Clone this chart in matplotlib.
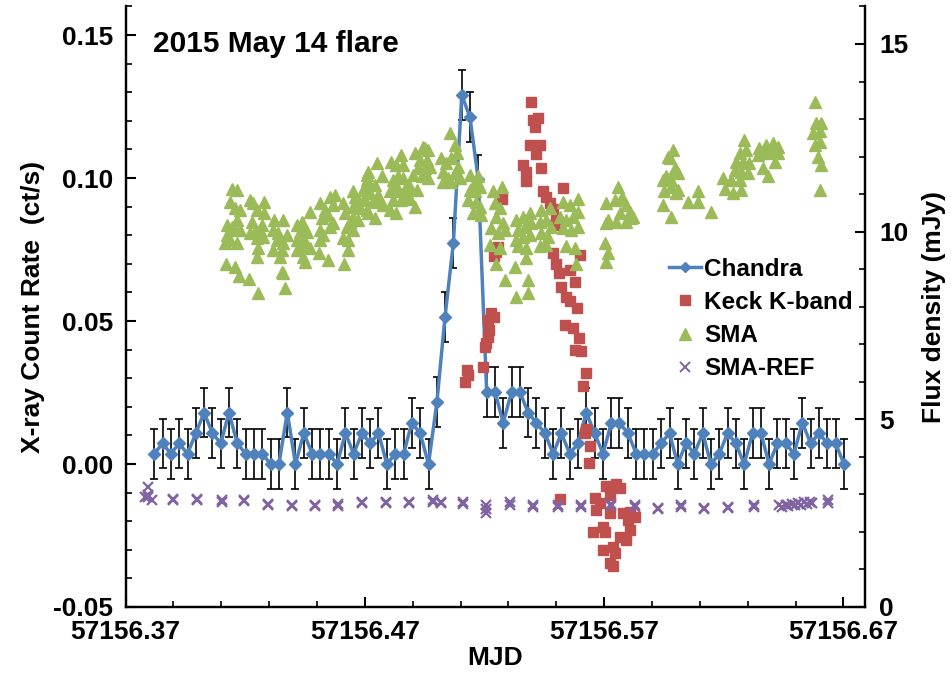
import matplotlib
matplotlib.use("Agg")
import matplotlib.pyplot as plt
from matplotlib.lines import Line2D
from matplotlib.ticker import MultipleLocator, FixedLocator

plt.rcParams["font.family"] = ["Liberation Sans", "DejaVu Sans"]
plt.rcParams["font.weight"] = "bold"

MJD0 = 57156.0

# Chandra 300 s bins: time (MJD - 57156), count rate (ct/s)
chandra_t = [
    .3820, .3855, .3889, .3924, .3959, .3994, .4028, .4063, .4098, .4132,
    .4167, .4202, .4237, .4271, .4306, .4341, .4376, .4410, .4445, .4480,
    .4514, .4549, .4584, .4619, .4653, .4688, .4723, .4757, .4792, .4827,
    .4862, .4896, .4931, .4966, .5001, .5035, .5070, .5105, .5139, .5174,
    .5209, .5244, .5278, .5313, .5348, .5382, .5417, .5452, .5487, .5521,
    .5556, .5591, .5625, .5660, .5695, .5730, .5764, .5799, .5834, .5868,
    .5903, .5938, .5973, .6007, .6042, .6077, .6112, .6146, .6181, .6216,
    .6250, .6285, .6320, .6355, .6389, .6424, .6459, .6493, .6528, .6563,
    .6598, .6632, .6667, .6702,
]
chandra_rate = [
    0.0036, 0.0072, 0.0036, 0.0072, 0.0036, 0.0108, 0.0180, 0.0108, 0.0072, 0.0180,
    0.0072, 0.0036, 0.0036, 0.0036, 0.0, 0.0, 0.0180, 0.0, 0.0108, 0.0036,
    0.0036, 0.0036, 0.0, 0.0108, 0.0036, 0.0108, 0.0072, 0.0108, 0.0, 0.0036,
    0.0036, 0.0144, 0.0108, 0.0, 0.0216, 0.0515, 0.0774, 0.1290, 0.1213, 0.0995,
    0.0252, 0.0252, 0.0144, 0.0252, 0.0252, 0.0180, 0.0144, 0.0108, 0.0036, 0.0108,
    0.0036, 0.0072, 0.0180, 0.0108, 0.0036, 0.0144, 0.0144, 0.0108, 0.0036, 0.0036,
    0.0036, 0.0072, 0.0108, 0.0, 0.0072, 0.0036, 0.0108, 0.0, 0.0036, 0.0108,
    0.0072, 0.0, 0.0108, 0.0108, 0.0, 0.0072, 0.0072, 0.0036, 0.0144, 0.0072,
    0.0108, 0.0072, 0.0072, 0.0,
]
chandra_err = 0.0087

# Keck K-band (mJy)
keck_t = [
    .5125, .5131, .5120, .5194, .5201, .5208, .5215, .5218, .5215, .5229, .5239,
    .5239, .5250, .5257, .5271,
    .5361, .5375, .5375, .5389, .5396, .5403, .5410, .5414, .5424, .5431, .5438,
    .5444, .5459, .5472, .5486, .5500, .5493, .5528,
    .5486, .5500, .5511, .5556, .5577, .5598, .5521, .5542, .5559, .5585,
    .5538, .5570, .5595, .5577, .5605, .5622, .5612, .5623, .5619, .5639, .5635,
    .5514,
    .5660, .5681, .5667, .5709, .5751, .5765, .5723,
    .5723, .5777, .5806, .5827, .5799,
    .5653, .5694, .5702, .5806, .5765, .5793, .5695, .5737, .5744, .5723, .5737,
]
keck_flux = [
    6.32, 6.18, 6.00, 6.40, 6.94, 7.03, 7.20, 7.38, 7.65, 7.82, 7.73,
    9.35, 9.46, 9.59, 10.88,
    11.77, 11.59, 11.35, 12.31, 13.46, 12.97, 12.79, 12.07, 13.02, 12.31, 11.69,
    11.07, 10.92, 10.76, 10.60, 10.31, 10.17, 11.15,
    9.42, 9.13, 8.89, 8.98, 8.67, 9.37, 8.52, 8.26, 8.14, 7.97,
    7.50, 7.42, 7.17, 6.84, 6.82, 6.24, 5.89, 4.74, 4.64, 4.28, 3.83,
    2.88,
    2.91, 2.77, 2.58, 3.22, 3.29, 3.17, 2.99,
    2.50, 2.50, 2.54, 2.41, 2.32,
    2.01, 2.13, 2.01, 2.05, 1.87, 1.79, 1.52, 1.60, 1.43, 1.17, 1.08,
]

# SMA (mJy)
sma_t = [
    .4143, .4164, .4136, .4157, .4178, .4123, .4143, .4164, .4157, .4178,
    .4115, .4136, .4164, .4123, .4120, .4157, .4175, .4217, .4254, .4220,
    .4234, .4278, .4248, .4278, .4227, .4220, .4241, .4262, .4269, .4248,
    .4275, .4254, .4248, .4320, .4356, .4317, .4338, .4331, .4359, .4317,
    .4352, .4345, .4373, .4352, .4359, .4366, .4415, .4436, .4429, .4449,
    .4415, .4442, .4436, .4457, .4415, .4442, .4449, .4470, .4470, .4457,
    .4509, .4547, .4512, .4533, .4519, .4547, .4568, .4554, .4575, .4512,
    .4526, .4554, .4568, .4512, .4609, .4616, .4624, .4609, .4630, .4630,
    .4612, .4651, .4658, .4672, .4651, .4679, .4651, .4672, .4637, .4651,
    .4707, .4714, .4707, .4714,
    .4714, .4749, .4770, .4707, .4742, .4693, .4721, .4755, .4700, .4735,
    .4762, .4707, .4742, .4776, .4811, .4832, .4853, .4860, .4818, .4839,
    .4860, .4832, .4804, .4839, .4874, .4818, .4853, .4804, .4832, .4909,
    .4943, .4964, .4930, .4958, .4922, .4950, .4971, .4902, .4937, .4964,
    .4888, .4916, .4888, .4909, .4874, .4950, .5020, .5041, .5062, .5083,
    .5027, .5048, .5076, .5089, .5027, .5062, .5097, .5055, .5076, .5138,
    .5159, .5138, .5159, .5180, .5131, .5166, .5180, .5152, .5187, .5173,
    .5236, .5275, .5243, .5264, .5250, .5277, .5229, .5256, .5284, .5225,
    .5264, .5250, .5284, .5326, .5333, .5375, .5382, .5382, .5333, .5361,
    .5389, .5340, .5368, .5396, .5333, .5361, .5389, .5340, .5375, .5438,
    .5472, .5431, .5459, .5479, .5438, .5465, .5431, .5459, .5528, .5556,
    .5590, .5514, .5542, .5570, .5590, .5528, .5563, .5590, .5542, .5577,
    .5584,
    .5709, .5709, .5702, .5709, .5716, .5716, .5757, .5744, .5772, .5793,
    .5806, .5765, .5813, .5751, .5793, .5820, .5778,
    .5987, .5966, .5994, .5960, .5980, .6008, .5952, .5980, .6001, .5945,
    .5980, .6050, .6091, .6091, .6147, .5973, .6001, .5945, .6008,
    .6286, .6266, .6293, .6252, .6279, .6307, .6245, .6273, .6300, .6196,
    .6231, .6203, .6266, .6238, .6273, .6349, .6377, .6405, .6425, .6342,
    .6370, .6398, .6425, .6363, .6412, .6384,
    .6579, .6586, .6607, .6572, .6600, .6579, .6600, .6592, .6607, .6600,
]
sma_flux = [
    11.14, 11.10, 10.79, 10.62, 10.58, 10.17, 10.13, 10.31, 10.04, 10.04,
    9.69, 9.78, 9.69, 9.91, 9.15, 9.06, 8.82, 8.73, 8.37, 10.84,
    10.75, 10.79, 10.58, 10.49, 10.27, 9.96, 10.00, 10.04, 10.17, 9.83,
    9.87, 9.56, 9.32, 10.31, 10.31, 10.04, 9.96, 9.78, 9.69, 9.52,
    9.52, 9.33, 9.91, 8.93, 8.89, 8.49, 10.17, 10.27, 10.00, 10.04,
    9.78, 9.83, 9.61, 9.61, 9.52, 9.33, 9.20, 9.56, 10.53, 10.00,
    9.42, 9.25, 10.75, 10.58, 10.36, 10.45, 10.71, 10.93, 10.97, 10.04,
    9.91, 10.13, 10.23, 9.78, 10.75, 10.49, 10.13, 9.83, 9.78, 9.52,
    9.15, 11.07, 10.93, 10.84, 10.66, 10.62, 10.40, 10.31, 10.27, 10.04,
    11.51, 11.30, 11.02, 10.49,
    11.60, 11.82, 11.47, 11.38, 11.25, 11.10, 11.02, 10.97, 10.84, 10.79,
    10.84, 10.58, 10.36, 10.71, 11.86, 11.77, 12.05, 11.77, 11.38, 11.47,
    11.43, 11.25, 11.07, 11.07, 11.20, 10.84, 10.84, 10.58, 10.49, 12.09,
    12.26, 12.18, 11.91, 11.91, 11.69, 11.69, 11.73, 11.51, 11.47, 11.43,
    11.20, 11.10, 10.88, 10.66, 10.97, 12.22, 11.95, 11.82, 11.95, 12.09,
    11.60, 11.43, 11.56, 11.73, 11.33, 11.33, 11.43, 12.62, 12.31, 11.51,
    11.33, 11.10, 11.07, 11.20, 10.84, 10.79, 10.66, 10.49, 10.45, 11.47,
    11.07, 11.20, 10.75, 10.62, 10.40, 10.23, 10.09, 9.96, 10.04, 9.65,
    9.56, 9.15, 8.71, 9.06, 8.27, 9.29, 8.71, 8.36, 10.31, 10.40,
    10.49, 10.04, 10.13, 10.23, 9.78, 9.87, 9.91, 9.61, 9.56, 10.58,
    10.62, 10.27, 10.31, 10.13, 9.96, 9.87, 9.61, 9.65, 10.79, 10.71,
    10.88, 10.40, 10.31, 10.40, 10.53, 10.09, 10.04, 10.13, 9.61, 9.56,
    9.15,
    10.75, 10.23, 9.69, 9.20, 10.31, 9.42, 11.20, 10.84, 10.88, 10.71,
    10.53, 10.49, 10.36, 10.27, 10.27, 10.40, 10.88,
    12.18, 12.00, 11.69, 11.47, 11.38, 11.56, 11.07, 11.20, 11.02, 10.71,
    10.40, 10.79, 11.07, 10.79, 10.53, 11.95, 11.64, 11.38, 11.10,
    12.44, 12.09, 12.18, 11.86, 11.86, 11.82, 11.64, 11.60, 11.56, 11.43,
    11.38, 11.14, 11.38, 11.02, 11.10, 12.22, 12.31, 12.35, 12.26, 12.05,
    12.09, 12.13, 12.09, 11.69, 11.86, 11.47,
    13.46, 12.89, 12.89, 12.62, 12.67, 12.31, 12.40, 12.00, 11.77, 11.10,
]

# SMA reference source (mJy)
ref_t = [
    .3795, .3795, .3795, .3781, .3809, .3900, .3900, .3997, .3997, .4102,
    .4102, .4195, .4195, .4296, .4296, .4394, .4394, .4491, .4491, .4588,
    .4588, .4686, .4686, .4788, .4788, .4885, .4885, .4985, .4985, .5020,
    .5020, .5110, .5110, .5208, .5208, .5208, .5308, .5308, .5403, .5403,
    .5507, .5507, .5605, .5605, .5730, .5730, .5827, .5827, .5924, .5924,
    .6022, .6022, .6119, .6119, .6217, .6217, .6328, .6328,
    .6432, .6445, .6458, .6470, .6483, .6496, .6510, .6522, .6535, .6548,
    .6560, .6570, .6634, .6634,
]
ref_flux = [
    2.98, 2.92, 3.19, 2.93, 2.84, 2.84, 2.87, 2.89, 2.85, 2.84,
    2.81, 2.84, 2.82, 2.75, 2.71, 2.71, 2.69, 2.71, 2.68, 2.75,
    2.69, 2.79, 2.76, 2.79, 2.77, 2.79, 2.77, 2.84, 2.81, 2.79,
    2.77, 2.79, 2.75, 2.71, 2.50, 2.62, 2.79, 2.73, 2.71, 2.67,
    2.71, 2.67, 2.71, 2.67, 2.75, 2.69, 2.71, 2.67, 2.64, 2.61,
    2.71, 2.67, 2.64, 2.61, 2.67, 2.64, 2.71, 2.67,
    2.71, 2.67, 2.73, 2.69, 2.75, 2.71, 2.77, 2.73, 2.79, 2.75,
    2.81, 2.77, 2.84, 2.77,
]

BLUE = "#4F81BD"
RED = "#C0504D"
GREEN = "#9BBB59"
PURPLE = "#8064A2"
FS = 19


def mjd(ts):
    return [MJD0 + t for t in ts]


fig = plt.figure(figsize=(9.51, 6.77), dpi=100)
ax = fig.add_axes([0.132, 0.1034, 0.7776, 0.8871])
ax2 = ax.twinx()

# primary axis: Chandra
ax.errorbar(mjd(chandra_t), chandra_rate, yerr=chandra_err, fmt="none",
            ecolor="black", elinewidth=1.2, capsize=3, capthick=1.2, zorder=2)
ax.plot(mjd(chandra_t), chandra_rate, "-D", color=BLUE, lw=2.5, ms=6.5,
        zorder=3)

# secondary axis: flux densities (drawn over the primary series)
ax2.plot(mjd(keck_t), keck_flux, "s", color=RED, ms=7, mec=RED, zorder=2)
ax2.plot(mjd(sma_t), sma_flux, "^", color=GREEN, ms=9, mec=GREEN, zorder=3)
ax2.plot(mjd(ref_t), ref_flux, "x", color=PURPLE, ms=7.5, mew=1.6, zorder=4)

ax.set_xlim(57156.37, 57156.679)
ax.set_ylim(-0.05, 0.16)
ax2.set_ylim(0, 16)

xt = [57156.37, 57156.47, 57156.57, 57156.67]
ax.set_xticks(xt)
ax.set_xticklabels([f"{v:.2f}" for v in xt])
ax.xaxis.set_minor_locator(FixedLocator([57156.37 + 0.02 * i for i in range(16)]))
ax.set_yticks([-0.05, 0.0, 0.05, 0.10, 0.15])
ax.set_yticklabels(["-0.05", "0.00", "0.05", "0.10", "0.15"])
ax.yaxis.set_minor_locator(MultipleLocator(0.01))
ax2.set_yticks([0, 5, 10, 15])
ax2.yaxis.set_minor_locator(MultipleLocator(1))

for a in (ax, ax2):
    a.tick_params(which="major", direction="in", length=7, width=1.5,
                  labelsize=FS)
    a.tick_params(which="minor", direction="in", length=4, width=1.2)
    a.spines["top"].set_visible(False)
    for s in ("left", "right", "bottom"):
        a.spines[s].set_linewidth(1.6)
ax.tick_params(axis="x", which="major", pad=9.5)
ax.tick_params(axis="y", which="major", pad=9)
ax2.tick_params(axis="y", which="major", pad=10)

ax.set_xlabel("MJD", fontsize=FS, fontweight="bold", labelpad=1)
ax.set_ylabel("X-ray Count Rate  (ct/s)", fontsize=FS, fontweight="bold",
              labelpad=6)
ax2.set_ylabel("Flux density (mJy)", fontsize=FS, fontweight="bold",
               labelpad=10)

ax.text(0.037, 0.938, "2015 May 14 flare", transform=ax.transAxes,
        fontsize=21.5, fontweight="bold", va="center", ha="left")

handles = [
    Line2D([], [], color=BLUE, lw=2.5, marker="D", ms=5),
    Line2D([], [], color=RED, ls="none", marker="s", ms=7),
    Line2D([], [], color=GREEN, ls="none", marker="^", ms=8.5),
    Line2D([], [], color=PURPLE, ls="none", marker="x", ms=6.5, mew=1.4),
]
ax2.legend(handles, ["Chandra", "Keck K-band", "SMA", "SMA-REF"],
           loc="center left", bbox_to_anchor=(0.735, 0.4795), frameon=False,
           fontsize=17.5, handlelength=1.3, handletextpad=0.15,
           labelspacing=0.42, borderpad=0, borderaxespad=0)

fig.savefig("out.png", dpi=100)
